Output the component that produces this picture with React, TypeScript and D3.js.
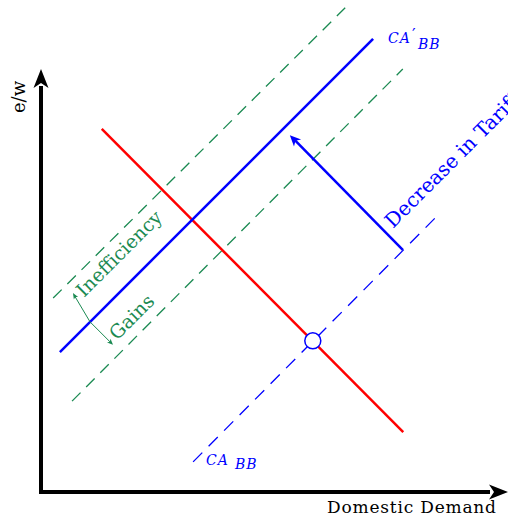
import React from "react";
import * as d3 from "d3";

// ---- data (in chart units) ----
const redDemand: [number, number][] = [[1.35, 8.07], [8.05, 1.33]];
const caPrime: [number, number][] = [[0.42, 3.11], [7.38, 10.07]];
const greenUpper: [number, number][] = [[0.27, 4.31], [6.76, 10.76]];
const greenLower: [number, number][] = [[0.69, 2.02], [8.04, 9.4]];
const caBB: [number, number][] = [[3.38, 0.67], [8.76, 6.09]];
const equilibrium: [number, number] = [6.04, 3.36];
const tariffArrow: [number, number][] = [[8.04, 5.38], [5.53, 7.93]];
const gainsCenter: [number, number] = [1.09, 3.78];
const gainsTips: [number, number][] = [[0.71, 4.42], [1.6, 3.27]];
const axisLabels = ["Domestic Demand", "e/w"];
const lineLabels = ["Inefficiency", "Gains", "Decrease in Tariff"];
const curveNames = ["CA", "′", "BB"];

const W = 508, H = 516;
const x = d3.scaleLinear().domain([0, 10]).range([41, 491]);
const y = d3.scaleLinear().domain([0, 10]).range([492, 42]);
const line = d3.line<[number, number]>().x(d => x(d[0])).y(d => y(d[1]));

const BLUE = "#0000ff", RED = "#ff0000", GREEN = "#1b8a52";
const SERIF = "'DejaVu Serif', 'Liberation Serif', serif";

function head(tx: number, ty: number, angle: number, len: number, half: number, notch: number, fill: string) {
  const c = Math.cos(angle), s = Math.sin(angle);
  const pt = (a: number, b: number) => [tx + a * c - b * s, ty + a * s + b * c];
  const p1 = pt(-len, -half), p2 = pt(-len + notch, 0), p3 = pt(-len, half);
  return <path d={`M${tx},${ty}L${p1[0]},${p1[1]}L${p2[0]},${p2[1]}L${p3[0]},${p3[1]}Z`} fill={fill} />;
}

export default function App() {
  const x0 = x(0), y0 = y(0);
  const ta0 = tariffArrow[0], ta1 = tariffArrow[1];
  const taAng = Math.atan2(y(ta1[1]) - y(ta0[1]), x(ta1[0]) - x(ta0[0]));
  const gc = [x(gainsCenter[0]), y(gainsCenter[1])];
  return (
    <svg width={W} height={H} style={{ position: "absolute", left: 0, top: 0 }}>
      <rect width={W} height={H} fill="white" />
      {/* axes */}
      <line x1={x0} y1={y0 + 2} x2={x0} y2={86} stroke="black" strokeWidth={4} />
      {head(x0, 69, -Math.PI / 2, 19, 7.5, 5, "black")}
      <line x1={x0 - 2} y1={y0} x2={490} y2={y0} stroke="black" strokeWidth={4} />
      {head(508, y0, 0, 19, 7.5, 5, "black")}

      {/* green dashed */}
      <path d={line(greenUpper)!} stroke={GREEN} strokeWidth={1.3} strokeDasharray="12 8" fill="none" />
      <path d={line(greenLower)!} stroke={GREEN} strokeWidth={1.3} strokeDasharray="12 8" fill="none" />
      {/* blue dashed */}
      <path d={line(caBB)!} stroke={BLUE} strokeWidth={1.3} strokeDasharray="13 9" fill="none" />
      {/* red */}
      <path d={line(redDemand)!} stroke={RED} strokeWidth={2.5} fill="none" />
      {/* blue solid */}
      <path d={line(caPrime)!} stroke={BLUE} strokeWidth={2.5} fill="none" />
      {/* tariff arrow */}
      <line x1={x(ta0[0])} y1={y(ta0[1])} x2={x(ta1[0]) - 5 * Math.cos(taAng)} y2={y(ta1[1]) - 5 * Math.sin(taAng)} stroke={BLUE} strokeWidth={2.5} />
      {head(x(ta1[0]), y(ta1[1]), taAng, 11, 5, 3, BLUE)}
      {/* circle */}
      <circle cx={x(equilibrium[0])} cy={y(equilibrium[1])} r={8} fill="white" stroke={BLUE} strokeWidth={1.5} />

      {/* gains arrows */}
      {gainsTips.map((t, i) => {
        const tx = x(t[0]), ty = y(t[1]);
        const a = Math.atan2(ty - gc[1], tx - gc[0]);
        return (
          <g key={i}>
            <line x1={gc[0]} y1={gc[1]} x2={tx - 3 * Math.cos(a)} y2={ty - 3 * Math.sin(a)} stroke={GREEN} strokeWidth={1} />
            {head(tx, ty, a, 6, 2.5, 1.5, GREEN)}
          </g>
        );
      })}

      {/* labels */}
      <text x={327} y={513} fontFamily={SERIF} fontSize={17} textLength={169}>{axisLabels[0]}</text>
      <text transform="translate(25,97) rotate(-90)" textAnchor="middle" fontFamily={SERIF} fontSize={18}>{axisLabels[1]}</text>

      <text transform="translate(84,298) rotate(-45)" fontFamily={SERIF} fontSize={19} fill={GREEN}>{lineLabels[0]}</text>
      <text transform="translate(117,341) rotate(-45)" fontFamily={SERIF} fontSize={19} fill={GREEN}>{lineLabels[1]}</text>
      <text transform="translate(393,229) rotate(-45)" fontFamily={SERIF} fontSize={20} fill={BLUE}>{lineLabels[2]}</text>

      <text x={388} y={43} fontFamily={SERIF} fontStyle="italic" fontSize={14} letterSpacing={1} fill={BLUE}>{curveNames[0]}</text>
      <text x={412} y={40} fontFamily={SERIF} fontSize={16} fill={BLUE}>{curveNames[1]}</text>
      <text x={418} y={49} fontFamily={SERIF} fontStyle="italic" fontSize={14} letterSpacing={1} fill={BLUE}>{curveNames[2]}</text>

      <text x={206} y={465} fontFamily={SERIF} fontStyle="italic" fontSize={14} letterSpacing={1} fill={BLUE}>{curveNames[0]}</text>
      <text x={235} y={469} fontFamily={SERIF} fontStyle="italic" fontSize={14} letterSpacing={1} fill={BLUE}>{curveNames[2]}</text>
    </svg>
  );
}
